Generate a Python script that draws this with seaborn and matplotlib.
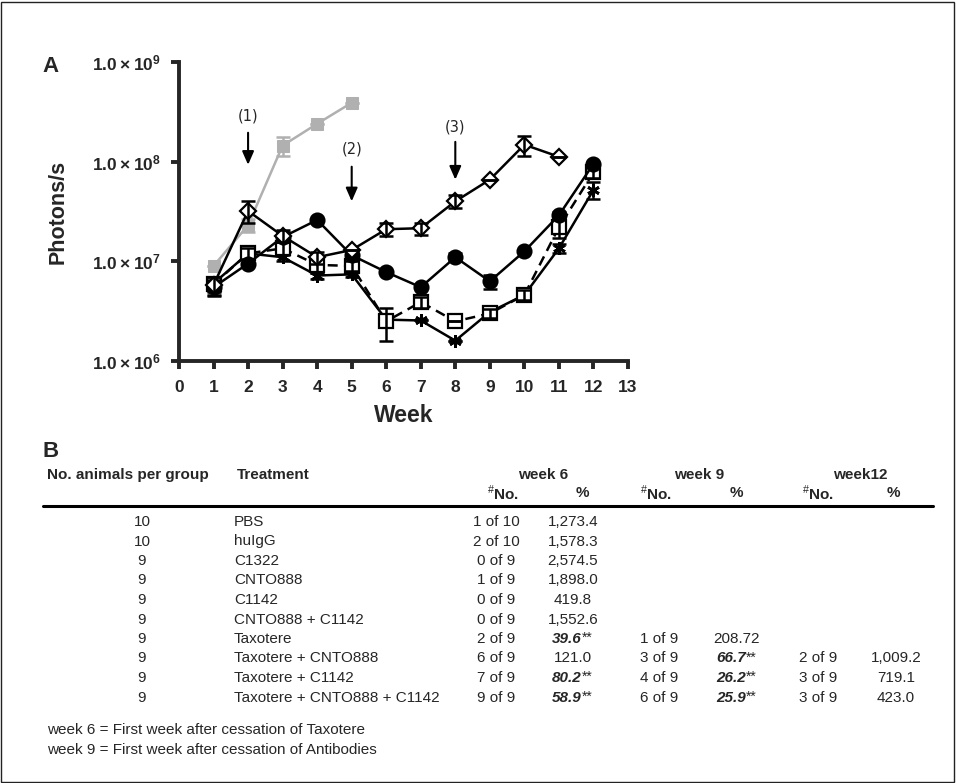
import numpy as np
import pandas as pd
import matplotlib
matplotlib.use("Agg")
import matplotlib.pyplot as plt
from matplotlib.patches import Rectangle
from matplotlib.ticker import FixedLocator, FixedFormatter, NullLocator
import seaborn as sns

# ---------------- data ----------------
weeks = [1, 2, 3, 4, 5, 6, 7, 8, 9, 10, 11, 12]
grey_weeks = [1, 2, 3, 4, 5]
grey_vals = [9.0e6, 2.3e7, 1.45e8, 2.4e8, 3.9e8]
grey_err = [0, 3.5e6, 3.0e7, 0, 0]

diamond_vals = [5.8e6, 3.2e7, 1.8e7, 1.1e7, 1.3e7, 2.1e7, 2.15e7, 4.0e7, 6.6e7, 1.48e8, 1.12e8, np.nan]
diamond_err = [1.2e6, 8e6, 2.5e6, 1.5e6, 0, 3e6, 3e6, 6e6, 0, 3.5e7, 0, 0]

circle_vals = [5.5e6, 9.5e6, 1.75e7, 2.6e7, 1.15e7, 7.8e6, 5.5e6, 1.1e7, 6.3e6, 1.26e7, 2.9e7, 9.5e7]
circle_err = [1e6, 0, 2e6, 0, 0, 0, 0, 1e6, 1e6, 0, 2e6, 5e6]

square_vals = [5.9e6, 1.2e7, 1.35e7, 9.2e6, 9.0e6, 2.5e6, 3.9e6, 2.5e6, 3.0e6, 4.6e6, 2.2e7, 7.8e7]
square_err = [1e6, 1.5e6, 2e6, 1.5e6, 1e6, 9e5, 5e5, 0, 3e5, 5e5, 5e6, 1e7]

star_vals = [6.0e6, 1.2e7, 1.1e7, 7.2e6, 7.4e6, 2.6e6, 2.55e6, 1.6e6, 3.1e6, 4.6e6, 1.35e7, 5.2e7]
star_err = [1e6, 1e6, 1e6, 5e5, 5e5, 0, 0, 0, 3e5, 0, 1.5e6, 1e7]

ytick_vals = [1e6, 1e7, 1e8, 1e9]
ytick_labels = [r"$\mathbf{1.0\times10^{6}}$", r"$\mathbf{1.0\times10^{7}}$",
                r"$\mathbf{1.0\times10^{8}}$", r"$\mathbf{1.0\times10^{9}}$"]
xtick_vals = list(range(0, 14))

arrow_weeks = [2, 5, 8]
arrow_labels = ["(1)", "(2)", "(3)"]

# table data
n_animals = ["10", "10", "9", "9", "9", "9", "9", "9", "9", "9"]
treatments = ["PBS", "huIgG", "C1322", "CNTO888", "C1142", "CNTO888 + C1142", "Taxotere",
              "Taxotere + CNTO888", "Taxotere + C1142", "Taxotere + CNTO888 + C1142"]
w6_no = ["1 of 10", "2 of 10", "0 of 9", "1 of 9", "0 of 9", "0 of 9", "2 of 9", "6 of 9", "7 of 9", "9 of 9"]
w6_pct = ["1,273.4", "1,578.3", "2,574.5", "1,898.0", "419.8", "1,552.6", "39.6", "121.0", "80.2", "58.9"]
w6_sig = [False, False, False, False, False, False, True, False, True, True]
w9_no = ["", "", "", "", "", "", "1 of 9", "3 of 9", "4 of 9", "6 of 9"]
w9_pct = ["", "", "", "", "", "", "208.72", "66.7", "26.2", "25.9"]
w9_sig = [False, False, False, False, False, False, False, True, True, True]
w12_no = ["", "", "", "", "", "", "", "2 of 9", "3 of 9", "3 of 9"]
w12_pct = ["", "", "", "", "", "", "", "1,009.2", "719.1", "423.0"]
footnotes = ["week 6 = First week after cessation of Taxotere",
             "week 9 = First week after cessation of Antibodies"]

# ---------------- style ----------------
sns.set_style("ticks")
plt.rcParams["font.family"] = ["Liberation Sans", "DejaVu Sans"]
plt.rcParams["mathtext.fontset"] = "custom"
plt.rcParams["mathtext.rm"] = "Liberation Sans"
plt.rcParams["mathtext.bf"] = "Liberation Sans:bold"

W, H = 956, 783
fig = plt.figure(figsize=(W / 100, H / 100), dpi=100)
fig.patch.set_facecolor("white")
fig.patches.append(Rectangle((1 / W, 1 / H), 1 - 3 / W, 1 - 3 / H, transform=fig.transFigure,
                             fill=False, edgecolor="#222222", linewidth=1.0))

ax = fig.add_axes([179 / W, 1 - 361 / H, 449 / W, 299 / H])
ax.set_yscale("log")

lw = 1.8
# grey series
sns.lineplot(x=grey_weeks, y=grey_vals, ax=ax, color="#b0b0b0", linewidth=lw, marker="s",
             markersize=9, markeredgecolor="#b0b0b0", markerfacecolor="#b0b0b0", zorder=2)
ax.errorbar(grey_weeks, grey_vals, yerr=grey_err, fmt="none", ecolor="#b0b0b0",
            elinewidth=1.8, capsize=5, capthick=1.8, zorder=2)

def draw(vals, err, marker, ms, mfc, ls, mew=1.6):
    sns.lineplot(x=weeks, y=vals, ax=ax, color="black", linewidth=lw, linestyle=ls,
                 marker=marker, markersize=ms, markeredgecolor="black",
                 markerfacecolor=mfc, markeredgewidth=mew, zorder=3)
    ax.errorbar(weeks, vals, yerr=err, fmt="none", ecolor="black",
                elinewidth=1.8, capsize=5, capthick=1.8, zorder=3)

draw(star_vals, star_err, (6, 2, 0), 9, "black", "-", mew=2.0)
draw(square_vals, square_err, "s", 10, "white", (0, (4, 2.5)))
draw(circle_vals, circle_err, "o", 10, "black", "-")
draw(diamond_vals, diamond_err, "D", 8, "white", "-")

ax.set_xlim(0, 13)
ax.set_ylim(1e6, 1e9)
ax.xaxis.set_major_locator(FixedLocator(xtick_vals))
ax.set_xticklabels([str(v) for v in xtick_vals], fontsize=12.5, fontweight="bold")
ax.yaxis.set_major_locator(FixedLocator(ytick_vals))
ax.yaxis.set_major_formatter(FixedFormatter(ytick_labels))
ax.yaxis.set_minor_locator(NullLocator())
for lab in ax.get_yticklabels():
    lab.set_fontsize(12.5)
ax.tick_params(axis="both", direction="out", length=6, width=2.8, pad=8)
ax.tick_params(axis="y", pad=7)
for s in ["top", "right"]:
    ax.spines[s].set_visible(False)
for s in ["left", "bottom"]:
    ax.spines[s].set_linewidth(2.8)
ax.set_xlabel("Week", fontsize=16.5, fontweight="bold", labelpad=6)
ax.set_ylabel("Photons/s", fontsize=15.5, fontweight="bold")
ax.yaxis.set_label_coords(-0.245, 0.5)

# arrows
arrow_text_y = [2.9e8, 1.35e8, 2.25e8]
arrow_top = [1.95e8, 8.9e7, 1.58e8]
arrow_tip = [9.3e7, 4.0e7, 6.6e7]
for xw, lab, ty, at, ab in zip(arrow_weeks, arrow_labels, arrow_text_y, arrow_top, arrow_tip):
    ax.text(xw, ty, lab, ha="center", va="center", fontsize=10.5, family="DejaVu Sans")
    ax.annotate("", xy=(xw, ab), xytext=(xw, at),
                arrowprops=dict(arrowstyle="-|>,head_width=0.35,head_length=0.8",
                                color="black", lw=1.5, shrinkA=0, shrinkB=0))

# panel labels
fig.text(42 / W, 1 - 66 / H, "A", fontsize=16, fontweight="bold", va="center", ha="left")
fig.text(42 / W, 1 - 452 / H, "B", fontsize=16, fontweight="bold", va="center", ha="left")

# ---------------- table ----------------
fs = 11
def ft(x, y, s, ha="left", **kw):
    fig.text(x / W, 1 - y / H, s, ha=ha, va="center", fontsize=kw.pop("size", fs), **kw)

def sig(x, y, s):
    ft(x + 9, y, s, ha="right", fontweight="bold", style="italic")
    ft(x + 9, y - 1, "**", ha="left", size=10)

ft(47, 475, "No. animals per group", fontweight="bold")
ft(237, 475, "Treatment", fontweight="bold")
ft(543, 475, "week 6", ha="center", fontweight="bold")
ft(699, 475, "week 9", ha="center", fontweight="bold")
ft(860, 475, "week12", ha="center", fontweight="bold")
for xno, xp in [(503, 582), (656, 736), (818, 893)]:
    ft(xno, 493, r"$^{\#}$No.", ha="center", fontweight="bold")
    ft(xp, 493, "%", ha="center", fontweight="bold")

fig.add_artist(plt.Line2D([43 / W, 933 / W], [1 - 506 / H, 1 - 506 / H], color="black",
                          linewidth=2.2, transform=fig.transFigure))

row_y0 = 522
dy = 19.5
for i in range(len(treatments)):
    y = row_y0 + i * dy
    ft(142, y, n_animals[i], ha="center")
    ft(234, y, treatments[i])
    ft(496, y, w6_no[i], ha="center")
    if w6_sig[i]:
        sig(573, y, w6_pct[i])
    else:
        ft(573, y, w6_pct[i], ha="center")
    if w9_no[i]:
        ft(659, y, w9_no[i], ha="center")
        if w9_sig[i]:
            sig(737, y, w9_pct[i])
        else:
            ft(737, y, w9_pct[i], ha="center")
    if w12_no[i]:
        ft(818, y, w12_no[i], ha="center")
        ft(896, y, w12_pct[i], ha="center")

ft(47, 730, footnotes[0])
ft(47, 750, footnotes[1])

fig.savefig("out.png", dpi=100)
